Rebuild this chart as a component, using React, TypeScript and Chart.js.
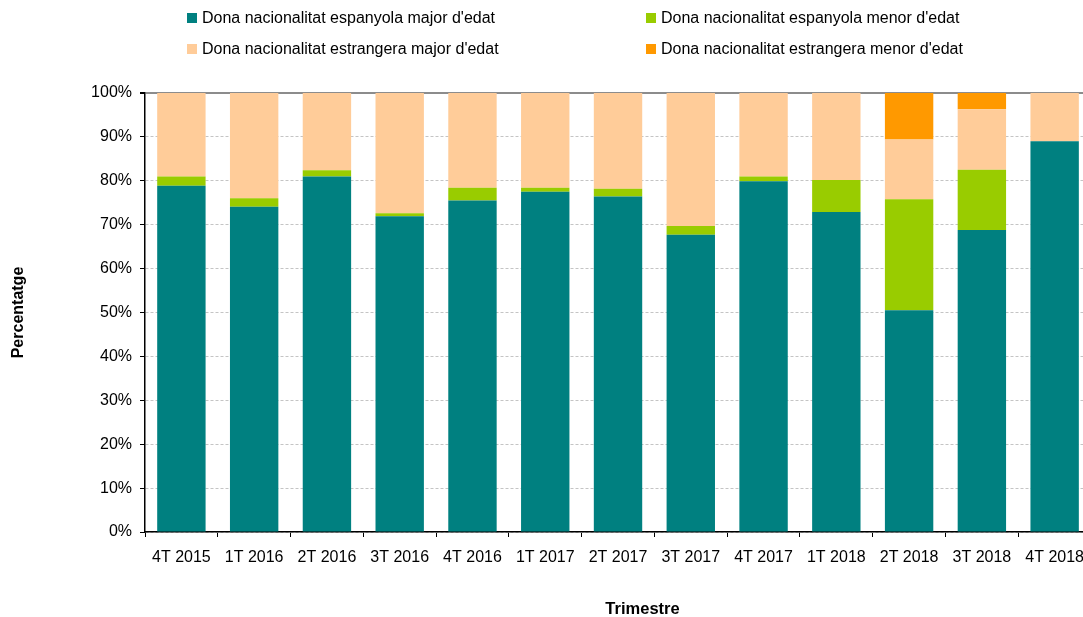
import React, { useEffect, useRef } from "react";
import { Chart, registerables } from "chart.js";

Chart.register(...registerables);

const categories = [
  "4T 2015", "1T 2016", "2T 2016", "3T 2016", "4T 2016", "1T 2017", "2T 2017",
  "3T 2017", "4T 2017", "1T 2018", "2T 2018", "3T 2018", "4T 2018",
];

const espanyolaMajor = [78.9, 74.1, 81.0, 71.9, 75.5, 77.5, 76.4, 67.7, 79.9, 72.9, 50.5, 68.8, 89.0];
const espanyolaMenor = [2.1, 1.9, 1.4, 0.7, 2.9, 0.9, 1.8, 2.0, 1.1, 7.3, 25.3, 13.7, 0];
const estrangeraMajor = [19.0, 24.0, 17.6, 27.4, 21.6, 21.6, 21.8, 30.3, 19.0, 19.8, 13.6, 13.8, 11.0];
const estrangeraMenor = [0, 0, 0, 0, 0, 0, 0, 0, 0, 0, 10.6, 3.7, 0];

const yTicks = [0, 10, 20, 30, 40, 50, 60, 70, 80, 90, 100];

const seriesNames = [
  "Dona nacionalitat espanyola major d'edat",
  "Dona nacionalitat espanyola menor d'edat",
  "Dona nacionalitat estrangera major d'edat",
  "Dona nacionalitat estrangera menor d'edat",
];
const seriesColors = ["#008080", "#99CC00", "#FFCC99", "#FF9900"];

const FONT = '"Liberation Sans", Arial, sans-serif';

const xTitlePlugin = {
  id: "xTitle",
  afterDraw(chart: any) {
    const ctx = chart.ctx;
    ctx.save();
    ctx.font = `bold 16.5px ${FONT}`;
    ctx.fillStyle = "#000";
    ctx.textAlign = "center";
    ctx.textBaseline = "middle";
    ctx.fillText("Trimestre", 642.5, 609);
    ctx.restore();
  },
};

export default function App() {
  const canvasRef = useRef<HTMLCanvasElement | null>(null);

  useEffect(() => {
    document.body.style.margin = "0";
    document.body.style.overflow = "hidden";
    document.documentElement.style.overflow = "hidden";
    Chart.defaults.font.family = FONT;
    const canvas = canvasRef.current;
    if (!canvas) return;
    const chart = new Chart(canvas, {
      type: "bar",
      data: {
        labels: categories,
        datasets: [espanyolaMajor, espanyolaMenor, estrangeraMajor, estrangeraMenor].map((d, i) => ({
          label: seriesNames[i],
          data: d,
          backgroundColor: seriesColors[i],
          borderWidth: 0,
          categoryPercentage: 1,
          barPercentage: 0.665,
        })),
      },
      options: {
        responsive: false,
        animation: false,
        maintainAspectRatio: false,
        layout: { padding: { top: 93, left: 0, right: 0, bottom: 0 } },
        plugins: {
          legend: { display: false },
          tooltip: { enabled: false },
        },
        scales: {
          x: {
            stacked: true,
            offset: true,
            grid: {
              display: true,
              drawOnChartArea: false,
              drawTicks: true,
              tickLength: 5,
              color: "#000",
              offset: true,
            },
            border: { display: true, color: "#000", width: 1.5 },
            ticks: {
              font: { size: 16 },
              color: "#000",
              padding: 11,
              maxRotation: 0,
              autoSkip: false,
            },
            afterFit: (scale: any) => {
              scale.height = 85;
            },
          },
          y: {
            stacked: true,
            min: 0,
            max: 100,
            afterBuildTicks: (scale: any) => {
              scale.ticks = yTicks.map((v) => ({ value: v }));
            },
            grid: {
              display: true,
              drawTicks: true,
              tickLength: 5,
              tickColor: "#000",
              tickBorderDash: [],
              color: (ctx: any) => (ctx.tick && ctx.tick.value === 100 ? "#8c8c8c" : "#c4c4c4"),
              lineWidth: (ctx: any) => (ctx.tick && ctx.tick.value === 100 ? 2 : 1),
            },
            border: {
              display: true,
              color: "#000",
              width: 1.5,
              dash: (ctx: any) => (ctx.tick && ctx.tick.value === 100 ? [] : [3, 2]),
            },
            ticks: {
              font: { size: 16 },
              color: "#000",
              padding: 8,
              callback: (v: any) => `${v}%`,
            },
            title: {
              display: true,
              text: "Percentatge",
              font: { size: 16, weight: "bold" },
              color: "#000",
              padding: { top: 9, bottom: 0 },
            },
            afterFit: (scale: any) => {
              scale.width = 145;
            },
          },
        },
      },
      plugins: [xTitlePlugin],
    } as any);
    return () => chart.destroy();
  }, []);

  const legendItems = [
    { i: 0, left: 187, top: 17.5 },
    { i: 1, left: 646, top: 17.5 },
    { i: 2, left: 187, top: 49 },
    { i: 3, left: 646, top: 49 },
  ];

  return (
    <div style={{ position: "relative", width: 1095, height: 617, fontFamily: FONT }}>
      <canvas ref={canvasRef} width={1095} height={617} style={{ display: "block" }} />
      {legendItems.map((it) => (
        <div
          key={it.i}
          style={{
            position: "absolute",
            left: it.left,
            top: it.top - 10,
            height: 20,
            display: "flex",
            alignItems: "center",
            fontSize: 16,
            color: "#000",
            whiteSpace: "nowrap",
          }}
        >
          <span
            style={{
              display: "inline-block",
              width: 10,
              height: 10,
              background: seriesColors[it.i],
              marginRight: 5,
            }}
          />
          <span>{seriesNames[it.i]}</span>
        </div>
      ))}
    </div>
  );
}
